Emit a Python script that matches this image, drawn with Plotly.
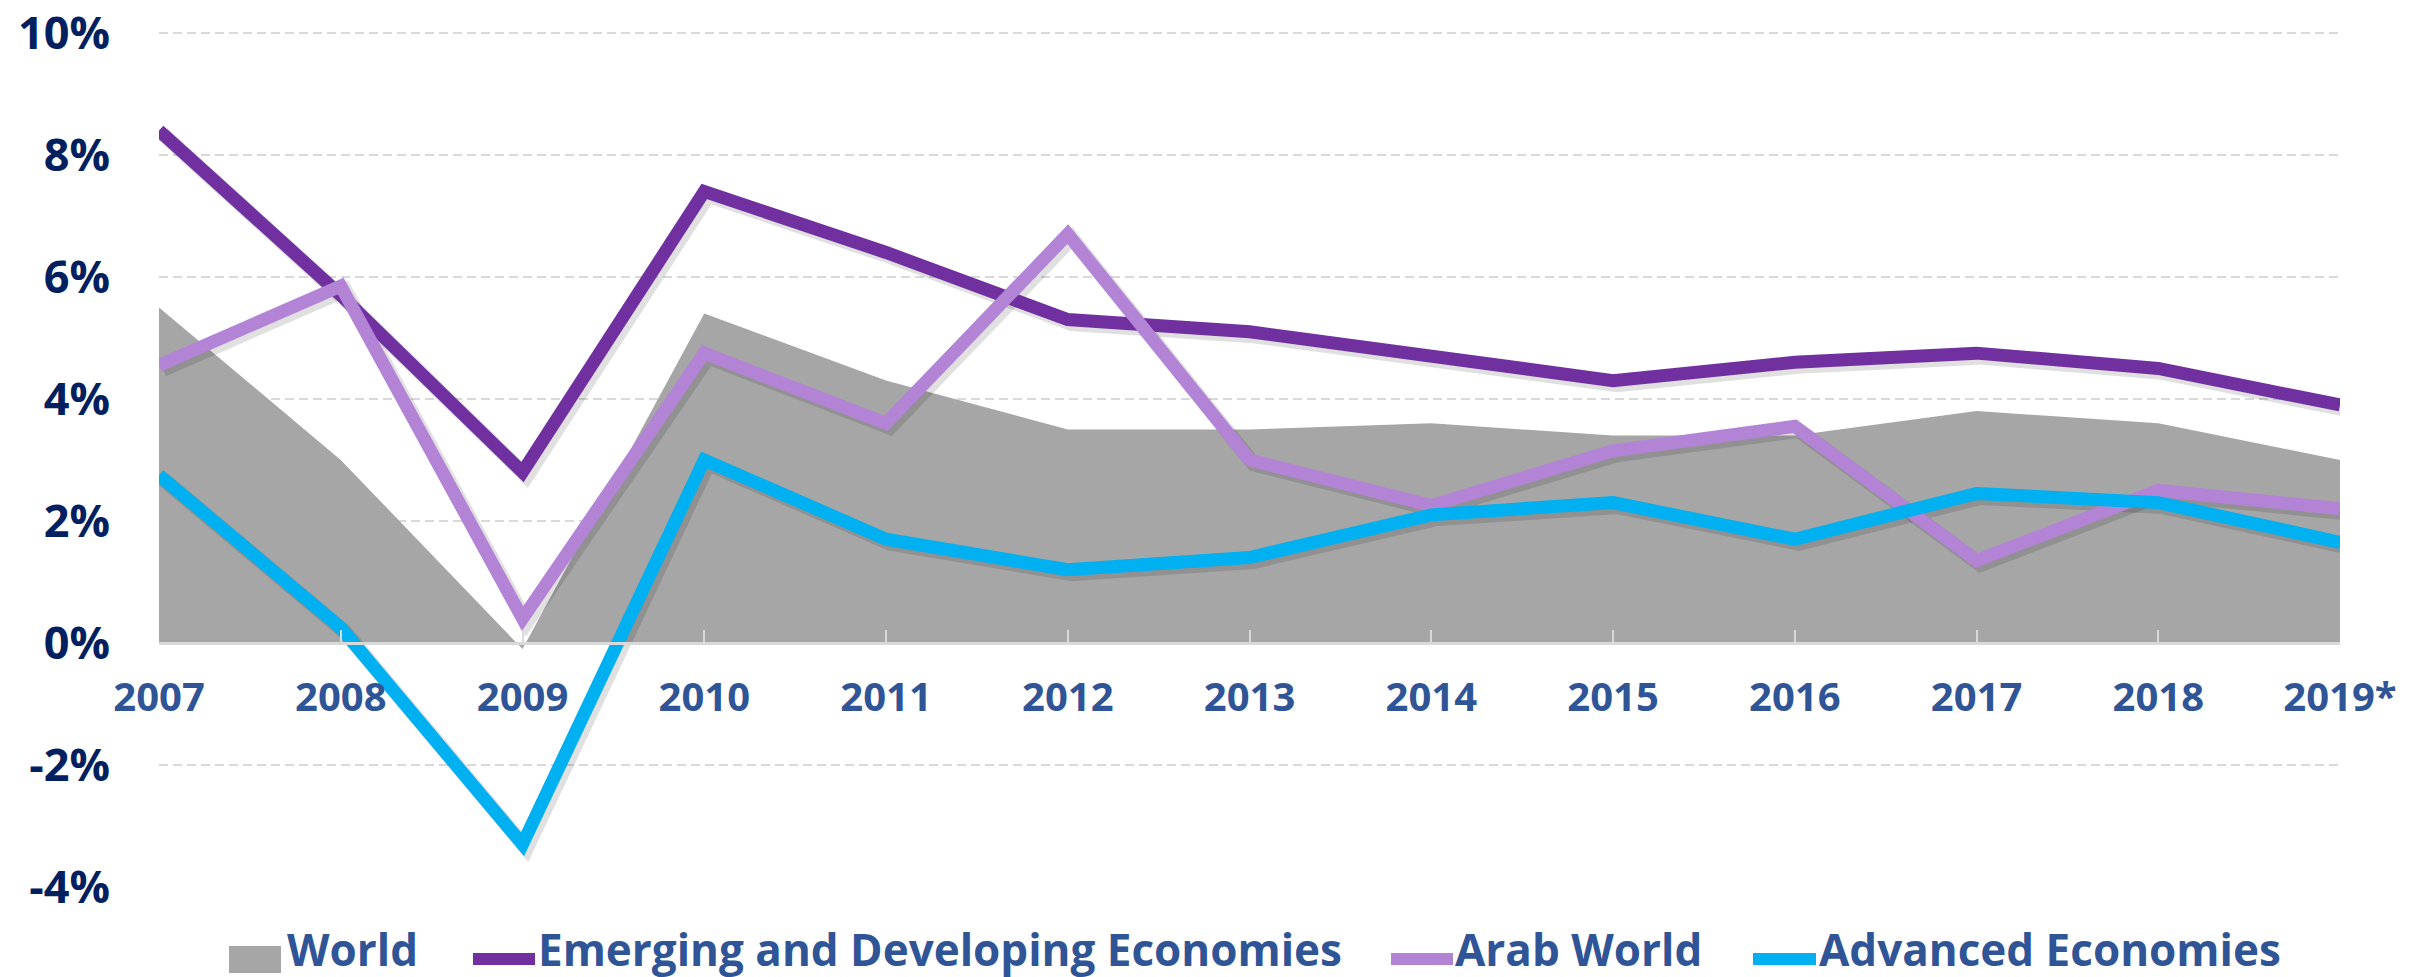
import plotly.graph_objects as go

# ---------------- data ----------------
years = ["2007", "2008", "2009", "2010", "2011", "2012", "2013",
         "2014", "2015", "2016", "2017", "2018", "2019*"]
world = [5.5, 3.0, -0.1, 5.4, 4.3, 3.5, 3.5, 3.6, 3.4, 3.4, 3.8, 3.6, 3.0]
emerging = [8.4, 5.7, 2.8, 7.4, 6.4, 5.3, 5.1, 4.7, 4.3, 4.6, 4.75, 4.5, 3.9]
arab = [4.55, 5.85, 0.4, 4.75, 3.6, 6.7, 3.0, 2.25, 3.15, 3.55, 1.35, 2.5, 2.2]
advanced = [2.75, 0.25, -3.3, 3.0, 1.7, 1.2, 1.4, 2.1, 2.3, 1.7, 2.45, 2.3, 1.65]

y_tickvals = [-4, -2, 0, 2, 4, 6, 8, 10]
y_ticktext = ["-4%", "-2%", "0%", "2%", "4%", "6%", "8%", "10%"]

legend_names = ["World", "Emerging and Developing Economies", "Arab World", "Advanced Economies"]

# ---------------- style ----------------
W, H = 2414, 977
ML, MR, MT, MB = 151, 82, 23, 98
PW, PH = W - ML - MR, H - MT - MB
Y0, Y1 = -4, 10.03
NX = len(years) - 1

C_WORLD = "#a6a6a6"
C_EMER = "#7030a0"
C_ARAB = "#b383d6"
C_ADV = "#00b0f0"
C_YLAB = "#002060"
C_XLAB = "#2f5597"
GRID = "#d9d9d9"
FONT = "Open Sans"
LW = 13

# shadow offsets (pixels -> axis units)
sdx = 4 * NX / PW
sdy = 4 * (Y1 - Y0) / PH

fig = go.Figure()

# World area (base subplot)
fig.add_trace(go.Scatter(x=years, y=world, mode="lines", fill="tozeroy",
                         fillcolor=C_WORLD, line=dict(width=0, color=C_WORLD),
                         name="World", showlegend=False, xaxis="x", yaxis="y"))

series = [(emerging, C_EMER, legend_names[1]),
          (arab, C_ARAB, legend_names[2]),
          (advanced, C_ADV, legend_names[3])]

# soft shadows (shifted overlay subplot)
for vals, col, nm in series:
    fig.add_trace(go.Scatter(x=years, y=vals, mode="lines",
                             line=dict(width=LW + 2, color="rgba(0,0,0,0.12)"),
                             showlegend=False, hoverinfo="skip",
                             xaxis="x2", yaxis="y2"))

# main lines
for vals, col, nm in series:
    fig.add_trace(go.Scatter(x=years, y=vals, mode="lines",
                             line=dict(width=LW, color=col),
                             name=nm, showlegend=False,
                             xaxis="x3", yaxis="y3"))

fig.update_layout(
    width=W, height=H,
    margin=dict(l=ML, r=MR, t=MT, b=MB, pad=0, autoexpand=False),
    paper_bgcolor="white", plot_bgcolor="white",
    showlegend=False,
    xaxis=dict(type="category", categoryorder="array", categoryarray=years,
               range=[0, NX], showgrid=False, zeroline=False, automargin=False,
               showline=True, linecolor=GRID, linewidth=3,
               ticks="inside", ticklen=12, tickwidth=2, tickcolor=GRID,
               anchor="free", position=(0 - Y0) / (Y1 - Y0),
               tickfont=dict(family=FONT, size=40, color=C_XLAB, weight="bold"),
               ticklabelstandoff=18, layer="above traces"),
    yaxis=dict(range=[Y0, Y1], tickvals=y_tickvals, ticktext=y_ticktext,
               showgrid=True, gridcolor=GRID, gridwidth=2, griddash="9px,5px",
               zeroline=False, showline=False, ticks="", automargin=False,
               tickfont=dict(family=FONT, size=45, color=C_YLAB, weight="bold"),
               ticklabelstandoff=48, ticklabeloverflow="allow"),
    xaxis2=dict(type="category", categoryorder="array", categoryarray=years,
                range=[0 - sdx, NX - sdx], overlaying="x", visible=False),
    yaxis2=dict(range=[Y0 + sdy, Y1 + sdy], overlaying="y", visible=False),
    xaxis3=dict(type="category", categoryorder="array", categoryarray=years,
                range=[0, NX], overlaying="x", visible=False),
    yaxis3=dict(range=[Y0, Y1], overlaying="y", visible=False),
)

# ---------------- manual legend ----------------
def px2x(p):
    return (p - ML) / PW

def py2y(p):
    return (H - MB - p) / PH

leg_y = 951
shapes = []
shapes.append(dict(type="rect", xref="paper", yref="paper",
                   x0=px2x(221), x1=px2x(273), y0=py2y(965), y1=py2y(938),
                   fillcolor=C_WORLD, line=dict(width=0)))
for (x0, x1), col in zip([(465, 527), (1383, 1445), (1745, 1808)],
                         [C_EMER, C_ARAB, C_ADV]):
    shapes.append(dict(type="line", xref="paper", yref="paper",
                       x0=px2x(x0), x1=px2x(x1), y0=py2y(leg_y), y1=py2y(leg_y),
                       line=dict(color=col, width=12)))
fig.update_layout(shapes=shapes)

for name, xpx in zip(legend_names, [277, 528, 1445, 1809]):
    fig.add_annotation(x=px2x(xpx), y=py2y(leg_y - 10), xref="paper", yref="paper",
                       text=name, showarrow=False, xanchor="left", yanchor="middle",
                       font=dict(family=FONT, size=44, color=C_XLAB, weight="bold"))

fig.write_html("out.html")
